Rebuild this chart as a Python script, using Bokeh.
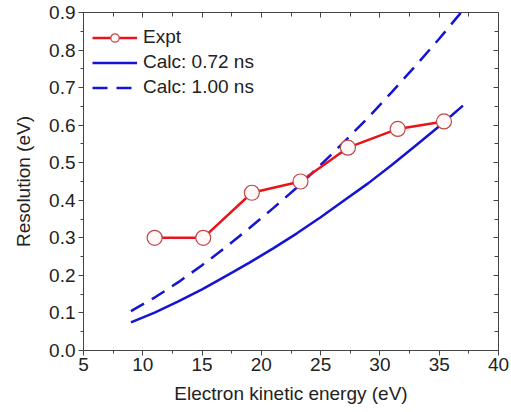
from bokeh.plotting import figure
from bokeh.models import Range1d, LinearAxis, Legend, LegendItem, FixedTicker
from bokeh.embed import file_html
from bokeh.resources import INLINE

# ---- data ----
expt_x = [11.0, 15.1, 19.2, 23.3, 27.3, 31.5, 35.4]
expt_y = [0.30, 0.30, 0.42, 0.45, 0.54, 0.59, 0.61]

calc072_x = [9, 11, 13, 15, 17, 19, 21, 23, 25, 27, 29, 31, 33, 35, 37]
calc072_y = [0.075, 0.101, 0.131, 0.163, 0.198, 0.234, 0.272, 0.312,
             0.355, 0.400, 0.445, 0.494, 0.545, 0.597, 0.652]

calc100_x = [9, 11, 13, 15, 17, 19, 21, 23, 25, 27, 29, 31, 33, 35, 37]
calc100_y = [0.105, 0.141, 0.182, 0.227, 0.275, 0.326, 0.379, 0.434,
             0.494, 0.556, 0.620, 0.688, 0.758, 0.830, 0.906]

x_ticks = [5, 10, 15, 20, 25, 30, 35, 40]
y_ticks = [0.0, 0.1, 0.2, 0.3, 0.4, 0.5, 0.6, 0.7, 0.8, 0.9]
y_tick_labels = ["0.0", "0.1", "0.2", "0.3", "0.4", "0.5", "0.6", "0.7", "0.8", "0.9"]

x_title = "Electron kinetic energy (eV)"
y_title = "Resolution (eV)"
legend_labels = ["Expt", "Calc: 0.72 ns", "Calc: 1.00 ns"]

FONT = "Liberation Sans"
FS = "19px"
AX_COL = "#444444"
TXT_COL = "#222222"
RED = "#e8141b"
MK_EDGE = "#c04848"
BLUE = "#1414d2"

p = figure(width=511, height=412, output_backend="svg", toolbar_location=None,
           x_range=Range1d(5, 40), y_range=Range1d(0, 0.9),
           min_border_left=83, min_border_right=13, min_border_top=12, min_border_bottom=62,
           x_axis_label=x_title, y_axis_label=y_title)
p.grid.visible = False
p.outline_line_color = None
p.background_fill_color = "white"
p.border_fill_color = "white"

x_minor = [v + 2.5 for v in x_ticks[:-1]]
y_minor = [round(v + 0.05, 2) for v in y_ticks[:-1]]

xa = p.xaxis[0]
xa.ticker = FixedTicker(ticks=x_ticks, minor_ticks=x_minor)
ya = p.yaxis[0]
ya.ticker = FixedTicker(ticks=y_ticks, minor_ticks=y_minor)
ya.major_label_overrides = {v: s for v, s in zip(y_ticks, y_tick_labels)}

for ax in (xa, ya):
    ax.axis_line_color = AX_COL
    ax.major_tick_line_color = AX_COL
    ax.minor_tick_line_color = AX_COL
    ax.major_tick_out = 5
    ax.major_tick_in = 0
    ax.minor_tick_out = 3
    ax.minor_tick_in = 0
    ax.major_label_text_font = FONT
    ax.major_label_text_font_size = FS
    ax.major_label_text_color = TXT_COL
    ax.axis_label_text_font = FONT
    ax.axis_label_text_font_size = FS
    ax.axis_label_text_font_style = "normal"
    ax.axis_label_text_color = TXT_COL
xa.major_label_standoff = 2
xa.axis_label_standoff = 9
ya.major_label_standoff = 3
ya.axis_label_standoff = 12

top = LinearAxis(ticker=FixedTicker(ticks=x_ticks, minor_ticks=x_minor))
right = LinearAxis(ticker=FixedTicker(ticks=y_ticks, minor_ticks=y_minor))
for ax in (top, right):
    ax.axis_line_color = AX_COL
    ax.major_tick_line_color = AX_COL
    ax.minor_tick_line_color = AX_COL
    ax.major_tick_in = 5
    ax.major_tick_out = 0
    ax.minor_tick_in = 4
    ax.minor_tick_out = 0
    ax.major_label_text_font_size = "1px"
    ax.major_label_text_color = None
    ax.major_label_standoff = 0
p.add_layout(top, "above")
p.add_layout(right, "right")

r_c72 = p.line(calc072_x, calc072_y, line_color=BLUE, line_width=2.5)
r_c100 = p.line(calc100_x, calc100_y, line_color=BLUE, line_width=2.5, line_dash="15 9")
r_el = p.line(expt_x, expt_y, line_color=RED, line_width=2.5)
r_em = p.scatter(expt_x, expt_y, marker="circle", size=15, line_color=MK_EDGE,
                 fill_color="#fff8f8", line_width=1.2)

legend = Legend(items=[
    LegendItem(label=legend_labels[0], renderers=[r_el, r_em]),
    LegendItem(label=legend_labels[1], renderers=[r_c72]),
    LegendItem(label=legend_labels[2], renderers=[r_c100]),
], location=(9, 252))
legend.glyph_width = 45
legend.glyph_height = 21
legend.label_height = 21
legend.label_standoff = 6
legend.spacing = 3
legend.padding = 0
legend.margin = 0
legend.label_text_font = FONT
legend.label_text_font_size = FS
legend.label_text_color = TXT_COL
legend.background_fill_alpha = 0
legend.border_line_color = None
p.add_layout(legend, "center")

open("out.html", "w").write(file_html(p, INLINE))
